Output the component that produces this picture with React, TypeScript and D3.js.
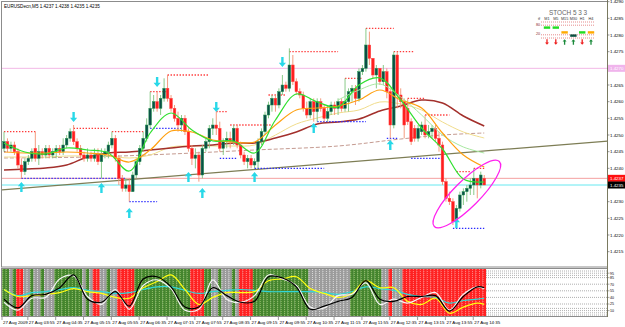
import React from "react";
import * as d3 from "d3";

// ---------- candle data (EURUSD M5, 27 Aug 2009) ----------
const OPEN = [1.4246,1.4248,1.4246,1.4247,1.4245,1.4241,1.4239,1.4242,1.4243,1.4246,
1.4243,1.4245,1.4244,1.4246,1.4244,1.4245,1.4246,1.4245,1.4247,1.4249,
1.4251,1.4248,1.4246,1.4244,1.4243,1.4244,1.4243,1.4244,1.4242,1.4244,
1.4245,1.4247,1.4249,1.4243,1.4237,1.4234,1.4235,1.4233,1.4238,1.4242,
1.4246,1.4249,1.4253,1.4258,1.4260,1.4258,1.4261,1.4264,1.4261,1.4258,
1.4255,1.4253,1.4255,1.4251,1.4246,1.4243,1.4244,1.4238,1.4246,1.4248,
1.4252,1.4253,1.4252,1.4246,1.4248,1.4249,1.4248,1.4252,1.4247,1.4244,
1.4242,1.4243,1.4241,1.4242,1.4248,1.4251,1.4256,1.4259,1.4261,1.4259,
1.4263,1.4265,1.4264,1.4271,1.4266,1.4263,1.4262,1.4258,1.4256,1.4260,
1.4257,1.4260,1.4258,1.4255,1.4257,1.4259,1.4258,1.4260,1.4258,1.4260,
1.4263,1.4264,1.4261,1.4269,1.4270,1.4277,1.4273,1.4268,1.4270,1.4266,
1.4269,1.4263,1.4253,1.4274,1.4262,1.4260,1.4258,1.4254,1.4252,1.4249,
1.4251,1.4253,1.4250,1.4251,1.4252,1.4249,1.4247,1.4236,1.4231,1.4230,
1.4224,1.4228,1.4232,1.4233,1.4234,1.4235,1.4237,1.4235,1.4237];
const HIGH = [1.4251,1.4249,1.4248,1.4248,1.4246,1.4243,1.4243,1.4244,1.4246,1.4251,
1.4247,1.4246,1.4247,1.4247,1.4246,1.4247,1.4247,1.4249,1.4250,1.4252,
1.4253,1.4249,1.4247,1.4245,1.4246,1.4245,1.4246,1.4246,1.4246,1.4246,
1.4248,1.4251,1.4250,1.4244,1.4238,1.4237,1.4237,1.4239,1.4243,1.4247,
1.4251,1.4255,1.4263,1.4262,1.4263,1.4262,1.4267,1.4268,1.4262,1.4259,
1.4257,1.4256,1.4256,1.4252,1.4247,1.4246,1.4245,1.4247,1.4249,1.4253,
1.4255,1.4257,1.4254,1.4249,1.4251,1.4251,1.4253,1.4253,1.4248,1.4245,
1.4244,1.4244,1.4243,1.4249,1.4252,1.4257,1.4260,1.4262,1.4262,1.4264,
1.4268,1.4266,1.4276,1.4274,1.4267,1.4264,1.4263,1.4260,1.4261,1.4261,
1.4261,1.4261,1.4259,1.4259,1.4260,1.4260,1.4261,1.4261,1.4267,1.4264,
1.4265,1.4265,1.4270,1.4271,1.4282,1.4281,1.4273,1.4271,1.4270,1.4271,
1.4270,1.4264,1.4275,1.4275,1.4264,1.4261,1.4261,1.4255,1.4253,1.4253,
1.4254,1.4256,1.4253,1.4253,1.4253,1.4251,1.4248,1.4237,1.4233,1.4231,
1.4229,1.4233,1.4234,1.4235,1.4237,1.4240,1.4237,1.4239,1.4238];
const LOW = [1.4245,1.4245,1.4245,1.4244,1.4240,1.4237,1.4238,1.4241,1.4242,1.4242,
1.4241,1.4243,1.4243,1.4243,1.4243,1.4243,1.4244,1.4244,1.4246,1.4248,
1.4247,1.4245,1.4243,1.4242,1.4242,1.4242,1.4242,1.4241,1.4237,1.4243,
1.4243,1.4246,1.4242,1.4235,1.4233,1.4233,1.4230,1.4233,1.4237,1.4241,
1.4245,1.4248,1.4252,1.4257,1.4257,1.4256,1.4260,1.4260,1.4257,1.4254,
1.4251,1.4251,1.4250,1.4245,1.4241,1.4240,1.4236,1.4237,1.4245,1.4246,
1.4250,1.4250,1.4245,1.4244,1.4246,1.4246,1.4247,1.4246,1.4243,1.4241,
1.4240,1.4240,1.4240,1.4240,1.4247,1.4250,1.4255,1.4257,1.4257,1.4258,
1.4262,1.4263,1.4263,1.4265,1.4262,1.4261,1.4257,1.4255,1.4255,1.4254,
1.4254,1.4257,1.4254,1.4254,1.4256,1.4256,1.4256,1.4257,1.4257,1.4257,
1.4260,1.4259,1.4260,1.4268,1.4269,1.4271,1.4267,1.4264,1.4265,1.4265,
1.4261,1.4249,1.4252,1.4258,1.4258,1.4249,1.4253,1.4247,1.4248,1.4248,
1.4250,1.4249,1.4249,1.4249,1.4248,1.4245,1.4235,1.4230,1.4229,1.4223,
1.4222,1.4227,1.4229,1.4230,1.4232,1.4232,1.4231,1.4234,1.4235];
const CLOSE = [1.4248,1.4246,1.4247,1.4245,1.4241,1.4239,1.4242,1.4243,1.4245,1.4243,
1.4245,1.4244,1.4246,1.4244,1.4245,1.4246,1.4245,1.4247,1.4249,1.4251,
1.4248,1.4246,1.4244,1.4243,1.4244,1.4243,1.4244,1.4242,1.4244,1.4245,
1.4247,1.4249,1.4243,1.4237,1.4234,1.4235,1.4233,1.4238,1.4242,1.4246,
1.4249,1.4253,1.4258,1.4260,1.4258,1.4261,1.4264,1.4261,1.4258,1.4255,
1.4253,1.4255,1.4251,1.4246,1.4243,1.4244,1.4238,1.4246,1.4248,1.4252,
1.4253,1.4252,1.4246,1.4248,1.4249,1.4248,1.4252,1.4247,1.4244,1.4242,
1.4243,1.4241,1.4242,1.4248,1.4251,1.4256,1.4259,1.4261,1.4259,1.4263,
1.4265,1.4264,1.4271,1.4266,1.4263,1.4262,1.4258,1.4256,1.4260,1.4257,
1.4260,1.4258,1.4255,1.4257,1.4259,1.4258,1.4260,1.4258,1.4260,1.4263,
1.4264,1.4261,1.4269,1.4270,1.4277,1.4273,1.4268,1.4270,1.4266,1.4269,
1.4263,1.4253,1.4274,1.4262,1.4260,1.4253,1.4254,1.4248,1.4249,1.4252,
1.4253,1.4250,1.4251,1.4252,1.4249,1.4247,1.4236,1.4231,1.4230,1.4224,
1.4228,1.4232,1.4233,1.4234,1.4235,1.4237,1.4235,1.4238,1.4235];

const TITLE = "EURUSDecn,M5  1.4237 1.4238 1.4235 1.4235";
const TIME_LABEL_BARS = [0,8,16,24,32,40,48,56,64,72,80,88,96,104,112,120,128,136];
const TIME_LABELS = ["27 Aug 2009","27 Aug 03:55","27 Aug 04:35","27 Aug 05:15","27 Aug 05:55","27 Aug 06:35",
"27 Aug 07:15","27 Aug 07:55","27 Aug 08:35","27 Aug 09:15","27 Aug 09:55","27 Aug 10:35","27 Aug 11:15",
"27 Aug 11:55","27 Aug 12:35","27 Aug 13:15","27 Aug 13:55","27 Aug 14:35"];
const PRICE_TICKS = [1.4215,1.422,1.4225,1.423,1.4235,1.424,1.4245,1.425,1.4255,1.426,1.4265,1.427,1.4275,1.428,1.4285,1.429];

// ---------- moving averages (read at knot bars) ----------
const MA_KNOTS = [0,6,12,18,24,30,36,42,48,54,60,66,72,78,84,90,96,102,108,114,120,126,132,138];
const MA_GREEN = [1.42476,1.42449,1.42443,1.42461,1.42455,1.42446,1.42392,1.42506,1.42566,1.42515,1.42482,1.42482,
1.42446,1.42545,1.42623,1.42599,1.42584,1.42650,1.42671,1.42605,1.42521,1.42458,1.42368,1.42359];
const MA_ORANGE = [1.42449,1.42446,1.42446,1.42449,1.42446,1.42440,1.42419,1.42455,1.42512,1.42509,1.42485,1.42479,
1.42479,1.42530,1.42575,1.42581,1.42587,1.42605,1.42635,1.42605,1.42581,1.42506,1.42440,1.42404];
const MA_YELLOW = [1.42434,1.42434,1.42434,1.42437,1.42437,1.42437,1.42431,1.42440,1.42464,1.42467,1.42467,1.42467,
1.42470,1.42500,1.42533,1.42551,1.42566,1.42575,1.42599,1.42593,1.42575,1.42539,1.42509,1.42491];
const MA_DARKRED = [1.42395,1.42398,1.42401,1.42410,1.42434,1.42446,1.42449,1.42455,1.42461,1.42467,1.42470,1.42476,
1.42476,1.42491,1.42509,1.42533,1.42539,1.42548,1.42572,1.42587,1.42605,1.42596,1.42557,1.42527];
const SLOW_KNOTS = [0,24,48,72,96,114,126,138];
const MA_SLOW = [1.42431,1.42434,1.42443,1.42455,1.42467,1.42488,1.42500,1.42506];
const LG_KNOTS = [96,102,108,114,120,126,132,138];
const MA_LIGHTGREEN = [1.42605,1.42635,1.42653,1.42614,1.42560,1.42500,1.42464,1.42446];

// ---------- levels & marks ----------
const TREND_BARS = [0, 138];
const TREND_PRICES = [1.42336, 1.42452];
const PINK_LEVEL = 1.427;
const ASK_LEVEL = 1.4237;
const BID_LEVEL = 1.4235;
const RES_FROM = [0,20,31,42,47,61,65,76,82,98,104,112,116,121,130,135];
const RES_TO =   [9,30,40,47,59,64,77,81,96,103,112,118,121,128,134,138];
const RES_PRICE = [1.4251,1.4252,1.4251,1.4263,1.4268,1.4257,1.4253,1.4262,1.4275,1.4267,1.4282,1.4275,1.4261,1.4256,1.4239,1.4240];
const SUP_FROM = [0,5,36,42,62,72,90,110,117,129];
const SUP_TO =   [1,35,44,51,67,92,104,113,126,138];
const SUP_PRICE = [1.4245,1.4237,1.4230,1.4252,1.4243,1.4240,1.4254,1.4249,1.4243,1.4222];
const UP_BARS = [5,28,36,53,57,72,89,111,130];
const UP_PRICES = [1.42344,1.42341,1.42266,1.42374,1.42326,1.42374,1.42521,1.42470,1.42236];
const DOWN_BARS = [20,44,61,80];
const DOWN_PRICES = [1.42554,1.42659,1.42584,1.42719];
const CIRCLE_BAR = 133;
const CIRCLE_PRICE = 1.42323;

// ---------- lower stochastic pane ----------
const STOCH_STATE = "ggng" + "rr" + "nngnngnnng" + "ggggggg" + "ngn" + "rr" + "nngnn" + "rrrrr" +
  "gggggggggggggggg" + "rrrr" + "gg" + "nngnnngn" + "rrrr" + "gggggggggggggggg" + "nnnnnnnnnnnn" +
  "ggggggggg" + "nn" + "r" + "nnn" + "rrrrrrrrrrrrrrrrrrrrrrrr";
const IND_KNOTS = [0,4,8,12,16,20,24,28,32,36,40,44,48,52,56,60,64,68,72,76,80,84,88,92,96,100,104,108,112,116,120,124,128,132,136,138];
const IND_BLACK = [36,16,44,47,62,91,36,29,53,20,82,87,64,18,18,62,44,29,31,87,84,64,13,20,31,40,78,36,31,42,42,44,9,42,64,62];
const IND_WHITE = [29,11,38,40,82,89,42,24,58,13,67,80,60,11,13,80,36,29,44,91,82,67,18,16,44,47,73,24,36,27,40,51,11,47,64,60];
const IND_YELLOW = [58,42,44,47,51,60,53,49,40,38,62,76,91,58,24,40,51,51,53,78,82,87,60,49,40,49,78,62,62,31,24,38,4,18,27,24];
const IND_CYAN = [58,44,51,53,58,62,56,53,49,51,58,64,64,56,49,53,56,58,56,53,53,53,53,51,47,53,64,60,56,47,42,40,27,33,36,38];
const IND_LEVELS = [100,95,90,85,70,55,40,25,15,10,5,0];
const IND_LABELS = [95,85,70,55,40,25,10];

// ---------- multi-timeframe STOCH box ----------
const MTF_TF = ["M1","M5","M15","M30","H1","H4"];
const MTF_VALUE = [65,65,35,15,35,35];
const MTF_COLOR = ["#22dd22","#22dd22","#ffaa00","#0a5040","#22dd22","#ffaa00"];
const MTF_UP = [false,false,true,true,false,true];

const FONT = "Liberation Sans, Arial, sans-serif";

export default function App() {
  const last = OPEN.length - 1;
  const x = d3.scaleLinear().domain([0, last]).range([4, 4 + last * 3.48]);
  const y = d3.scaleLinear().domain([1.42107, 1.42905]).range([266, 0]);
  const yi = d3.scaleLinear().domain([0, 100]).range([315, 271]);
  const barW = x(1) - x(0);
  const rightX = 607.5;

  const maPath = (knots: number[], vals: number[]) =>
    d3.line<number>().x((_, k) => x(knots[k])).y(v => y(v)).curve(d3.curveCatmullRom.alpha(0.5))(vals) || "";
  const indPath = (vals: number[]) =>
    d3.line<number>().x((_, k) => x(IND_KNOTS[k])).y(v => yi(v)).curve(d3.curveCatmullRom.alpha(0.5))(vals) || "";

  const trendSlope = (TREND_PRICES[1] - TREND_PRICES[0]) / (TREND_BARS[1] - TREND_BARS[0]);
  const trendEnd = TREND_PRICES[0] + trendSlope * (x.invert(rightX) - TREND_BARS[0]);
  const trendStart = TREND_PRICES[0] + trendSlope * (x.invert(2) - TREND_BARS[0]);

  const arrow = (cx: number, cy: number, up: boolean, s = 1) => {
    const d = up ? 1 : -1;
    const p = [
      [0, -5 * d], [3.6, -0.8 * d], [1.2, -0.8 * d], [1.2, 5 * d], [-1.2, 5 * d], [-1.2, -0.8 * d], [-3.6, -0.8 * d]
    ];
    return "M" + p.map(q => `${cx + q[0] * s},${cy + q[1] * s}`).join("L") + "Z";
  };

  const stateColor: Record<string, string> = { g: "#45852e", r: "#ff2222", n: "#9c9c9c" };
  const stateLine: Record<string, string> = { g: "#a8d07a", r: "#ff9a9a", n: "#e8e8e8" };

  const mtfX = (k: number) => 547 + k * 8.8;
  const mtfY = d3.scaleLinear().domain([0, 100]).range([38, 22]);

  return (
    <svg width={625} height={327} style={{ display: "block", position: "absolute", left: 0, top: 0, background: "#fff" }}
      fontFamily={FONT}>
      <rect x={0} y={0} width={625} height={327} fill="#ffffff" />
      <defs>
        <clipPath id="mainClip"><rect x={2} y={2} width={605.5} height={264.5} /></clipPath>
        <clipPath id="indClip"><rect x={2} y={269} width={605.5} height={47} /></clipPath>
      </defs>

      <rect x={1.5} y={1.5} width={rightX - 1.5} height={265.5} fill="none" stroke="#8c8c8c" strokeWidth={1} />
      <rect x={1.5} y={268.5} width={rightX - 1.5} height={48} fill="none" stroke="#8c8c8c" strokeWidth={1} />

      <text x={4} y={8} fontSize={4.6} fill="#000">{TITLE}</text>

      <g clipPath="url(#mainClip)">
        <line x1={2} x2={rightX} y1={y(PINK_LEVEL)} y2={y(PINK_LEVEL)} stroke="#f2b8e6" strokeWidth={1} />
        <line x1={2} x2={rightX} y1={y(ASK_LEVEL)} y2={y(ASK_LEVEL)} stroke="#f4a0a0" strokeWidth={1} />
        <line x1={2} x2={rightX} y1={y(BID_LEVEL)} y2={y(BID_LEVEL)} stroke="#66e8f0" strokeWidth={1} />
        <line x1={2} x2={rightX} y1={y(trendStart)} y2={y(trendEnd)} stroke="#7d7d55" strokeWidth={1.2} />

        <path d={maPath(SLOW_KNOTS, MA_SLOW)} fill="none" stroke="#c49a90" strokeWidth={1} strokeDasharray="4,2" />
        <path d={maPath(MA_KNOTS, MA_YELLOW)} fill="none" stroke="#f0dc8c" strokeWidth={1} />
        <path d={maPath(MA_KNOTS, MA_DARKRED)} fill="none" stroke="#a3302c" strokeWidth={1.5} />

        {RES_PRICE.map((p, k) => (
          <line key={"r" + k} x1={x(RES_FROM[k])} x2={x(RES_TO[k])} y1={y(p)} y2={y(p)}
            stroke="#ff3a3a" strokeWidth={1.3} strokeDasharray="1.4,1.6" />
        ))}
        {SUP_PRICE.map((p, k) => (
          <line key={"s" + k} x1={x(SUP_FROM[k])} x2={x(SUP_TO[k])} y1={y(p)} y2={y(p)}
            stroke="#2a2aff" strokeWidth={1.3} strokeDasharray="1.4,1.6" />
        ))}

        {OPEN.map((o, i) => {
          const c = CLOSE[i];
          const bull = c >= o;
          const top = y(Math.max(o, c));
          const bot = y(Math.min(o, c));
          const h = Math.max(bot - top, 1);
          return (
            <g key={i}>
              <line x1={x(i)} x2={x(i)} y1={y(HIGH[i])} y2={y(LOW[i])} stroke={bull ? "#7cc47c" : "#f39070"} strokeWidth={0.9} />
              <rect x={x(i) - barW * 0.38} y={top} width={barW * 0.76} height={h}
                fill={bull ? "#0b4f47" : "#ff1e1e"} stroke={bull ? "#239650" : "#ff4444"} strokeWidth={0.5} />
            </g>
          );
        })}

        <path d={maPath(LG_KNOTS, MA_LIGHTGREEN)} fill="none" stroke="#a8e8a0" strokeWidth={1} />
        <path d={maPath(MA_KNOTS, MA_ORANGE)} fill="none" stroke="#ffa010" strokeWidth={1.2} />
        <path d={maPath(MA_KNOTS, MA_GREEN)} fill="none" stroke="#30e030" strokeWidth={1.2} />

        {UP_BARS.map((b, k) => (
          <path key={"u" + k} d={arrow(x(b), y(UP_PRICES[k]), true)} fill="#28d8e8" />
        ))}
        {DOWN_BARS.map((b, k) => (
          <path key={"d" + k} d={arrow(x(b), y(DOWN_PRICES[k]), false)} fill="#28d8e8" />
        ))}

        <ellipse cx={x(CIRCLE_BAR)} cy={y(CIRCLE_PRICE)} rx={46} ry={13}
          transform={`rotate(-45 ${x(CIRCLE_BAR)} ${y(CIRCLE_PRICE)})`} fill="none" stroke="#ff22ee" strokeWidth={1.3} />
      </g>

      <g>
        <text x={568} y={15} fontSize={6.4} fill="#666" textAnchor="middle">STOCH  5 3 3</text>
        {MTF_TF.map((t, k) => (
          <text key={t} x={mtfX(k)} y={19.5} fontSize={3.8} fill="#333" textAnchor="middle">{t}</text>
        ))}
        <text x={539} y={19.5} fontSize={3.8} fill="#333" textAnchor="middle">tf</text>
        {[100, 80, 20, 0].map(v => (
          <line key={v} x1={541} x2={595} y1={mtfY(v)} y2={mtfY(v)} stroke="#e07070" strokeWidth={0.8} strokeDasharray="1,1" />
        ))}
        <text x={538} y={26} fontSize={3.8} fill="#8a3030" textAnchor="middle">80</text>
        <text x={538} y={35} fontSize={3.8} fill="#8a3030" textAnchor="middle">20</text>
        {MTF_VALUE.map((v, k) => (
          <rect key={k} x={mtfX(k) - 3.2} y={mtfY(v) - 1.2} width={6.4} height={2.4} fill={MTF_COLOR[k]} />
        ))}
        {MTF_UP.map((u, k) => (
          <path key={k} d={arrow(mtfX(k), 42, u, 0.55)} fill={u ? "#1a8a3a" : "#ee2020"} />
        ))}
      </g>

      <g clipPath="url(#indClip)">
        {IND_LEVELS.map(v => (
          <line key={v} x1={2} x2={rightX} y1={yi(v)} y2={yi(v)} stroke="#9a9a9a" strokeWidth={0.8} strokeDasharray="1,1" />
        ))}
        {STOCH_STATE.split("").map((s, i) => (
          <g key={i}>
            <rect x={x(i) - barW / 2} y={269} width={barW + 0.1} height={47} fill={stateColor[s]} />
            <line x1={x(i) - barW / 2 + 0.5} x2={x(i) - barW / 2 + 0.5} y1={269} y2={316} stroke={stateLine[s]}
              strokeWidth={0.8} strokeDasharray="1,1" />
          </g>
        ))}
        <path d={indPath(IND_CYAN)} fill="none" stroke="#30d8d8" strokeWidth={1.2} />
        <path d={indPath(IND_YELLOW)} fill="none" stroke="#ffff10" strokeWidth={1.2} />
        <path d={indPath(IND_WHITE)} fill="none" stroke="#f4f4f4" strokeWidth={1.2} />
        <path d={indPath(IND_BLACK)} fill="none" stroke="#000" strokeWidth={1.2} />
      </g>

      <line x1={rightX} x2={rightX} y1={0} y2={317} stroke="#7a7a60" strokeWidth={1} />
      {PRICE_TICKS.map(p => (
        <g key={p}>
          <line x1={rightX} x2={rightX + 2} y1={y(p)} y2={y(p)} stroke="#555" strokeWidth={0.6} />
          <text x={610} y={y(p) + 1.6} fontSize={4.4} fill="#000">{p.toFixed(4)}</text>
        </g>
      ))}
      <rect x={rightX + 0.5} y={y(PINK_LEVEL) - 3.5} width={17} height={7} fill="#f0b4ec" />
      <text x={610} y={y(PINK_LEVEL) + 1.6} fontSize={4.4} fill="#fff">{PINK_LEVEL.toFixed(4)}</text>
      <rect x={rightX + 0.5} y={y(ASK_LEVEL) - 3.5} width={17} height={7} fill="#ff1010" />
      <text x={610} y={y(ASK_LEVEL) + 1.6} fontSize={4.4} fill="#fff">{ASK_LEVEL.toFixed(4)}</text>
      <rect x={rightX + 0.5} y={y(BID_LEVEL) - 3.5} width={17} height={7} fill="#000" />
      <text x={610} y={y(BID_LEVEL) + 1.6} fontSize={4.4} fill="#fff">{BID_LEVEL.toFixed(4)}</text>
      {IND_LABELS.map(v => (
        <g key={v}>
          <line x1={rightX} x2={rightX + 2} y1={yi(v)} y2={yi(v)} stroke="#555" strokeWidth={0.5} />
          <text x={610} y={yi(v) + 1.3} fontSize={3.6} fill="#000">{v}</text>
        </g>
      ))}

      {TIME_LABEL_BARS.map((b, k) => (
        <g key={b}>
          <line x1={Math.max(2, x(b) - 4)} x2={Math.max(2, x(b) - 4)} y1={317} y2={320} stroke="#555" strokeWidth={0.6} />
          <text x={Math.max(2, x(b) - 4) + 1} y={324} fontSize={4.4} fill="#000">{TIME_LABELS[k]}</text>
        </g>
      ))}
    </svg>
  );
}
